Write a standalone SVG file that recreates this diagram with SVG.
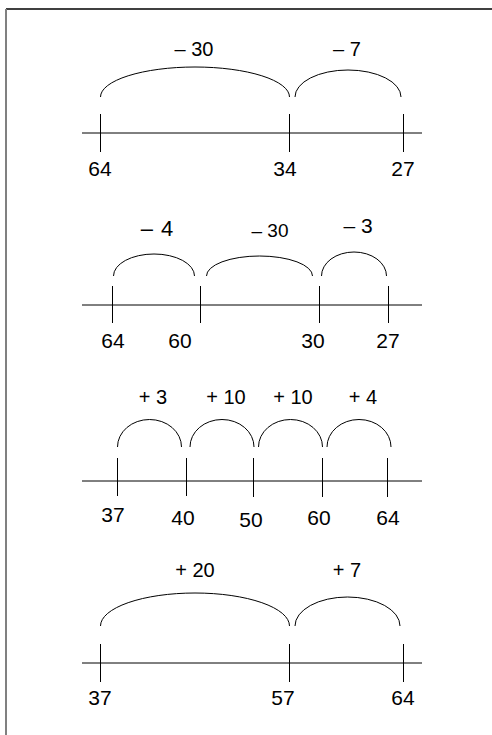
<svg xmlns="http://www.w3.org/2000/svg" width="492" height="735" viewBox="0 0 492 735">
<style>
.ax{stroke:#000;stroke-width:1;fill:none}
.arc{stroke:#000;stroke-width:1;fill:none}
.n{font-family:"Liberation Sans",Arial,sans-serif;font-size:21px;fill:#000;text-anchor:middle}
.op{font-family:"Liberation Sans",Arial,sans-serif;font-size:20px;fill:#000;text-anchor:middle}
</style>
<rect width="492" height="735" fill="#fff"/>
<g id="frame">
<line x1="6" y1="9" x2="492" y2="9" stroke="#000" stroke-width="1.5"/>
<line x1="6" y1="9" x2="6" y2="735" stroke="#808080" stroke-width="2"/>
</g>
<g id="line1">
<line class="ax" x1="82" y1="133" x2="422" y2="133"/>
<line class="ax" x1="100.5" y1="114" x2="100.5" y2="152"/>
<line class="ax" x1="289.5" y1="114" x2="289.5" y2="152"/>
<line class="ax" x1="403.5" y1="114" x2="403.5" y2="152"/>
<text class="n" x="100" y="176">64</text>
<text class="n" x="285" y="176">34</text>
<text class="n" x="403" y="176">27</text>
</g>
<g id="jumps1">
<path class="arc" d="M100.5,97 A94.5,30 0 0 1 289.5,97"/>
<path class="arc" d="M295,97 A53,27 0 0 1 401,97"/>
<text class="op" x="194" y="56">– 30</text>
<text class="op" x="347" y="56">– 7</text>
</g>
<g id="line2">
<line class="ax" x1="82" y1="305" x2="422" y2="305"/>
<line class="ax" x1="112.5" y1="286" x2="112.5" y2="323"/>
<line class="ax" x1="200.5" y1="286" x2="200.5" y2="323"/>
<line class="ax" x1="319.5" y1="286" x2="319.5" y2="323"/>
<line class="ax" x1="388.5" y1="286" x2="388.5" y2="323"/>
<text class="n" x="113" y="348">64</text>
<text class="n" x="180" y="348">60</text>
<text class="n" x="313" y="348">30</text>
<text class="n" x="388" y="348">27</text>
</g>
<g id="jumps2">
<path class="arc" d="M113.5,276 A40.5,22 0 0 1 194.5,276"/>
<path class="arc" d="M206.5,276 A53,20 0 0 1 312.5,276"/>
<path class="arc" d="M321.5,276 A32.5,24 0 0 1 386.5,276"/>
<text class="op" x="157" y="236" style="font-size:22px;word-spacing:2px">– 4</text>
<text class="op" x="270" y="237" style="font-size:19px">– 30</text>
<text class="op" x="358" y="233" style="font-size:21px">– 3</text>
</g>
<g id="line3">
<line class="ax" x1="82" y1="481" x2="422" y2="481"/>
<line class="ax" x1="117.5" y1="458" x2="117.5" y2="496"/>
<line class="ax" x1="186.5" y1="458" x2="186.5" y2="496"/>
<line class="ax" x1="253.5" y1="458" x2="253.5" y2="497"/>
<line class="ax" x1="322.5" y1="458" x2="322.5" y2="497"/>
<line class="ax" x1="387.5" y1="458" x2="387.5" y2="497"/>
<text class="n" x="113" y="522">37</text>
<text class="n" x="183" y="525">40</text>
<text class="n" x="251" y="527">50</text>
<text class="n" x="319" y="525">60</text>
<text class="n" x="388" y="525">64</text>
</g>
<g id="jumps3">
<path class="arc" d="M117.5,447 A32,27.5 0 0 1 181.5,447"/>
<path class="arc" d="M190,447 A32,27.5 0 0 1 254,447"/>
<path class="arc" d="M258.5,447 A32,27.5 0 0 1 322.5,447"/>
<path class="arc" d="M327,447 A32,27.5 0 0 1 391,447"/>
<text class="op" x="153" y="404">+ 3</text>
<text class="op" x="226" y="404">+ 10</text>
<text class="op" x="293" y="404">+ 10</text>
<text class="op" x="363" y="404">+ 4</text>
</g>
<g id="line4">
<line class="ax" x1="82" y1="663" x2="422" y2="663"/>
<line class="ax" x1="100.5" y1="644" x2="100.5" y2="682"/>
<line class="ax" x1="289.5" y1="644" x2="289.5" y2="682"/>
<line class="ax" x1="403.5" y1="644" x2="403.5" y2="682"/>
<text class="n" x="100" y="705">37</text>
<text class="n" x="283" y="705">57</text>
<text class="n" x="403" y="705">64</text>
</g>
<g id="jumps4">
<path class="arc" d="M100.5,626 A94.5,33 0 0 1 289.5,626"/>
<path class="arc" d="M295,626 A52.5,29 0 0 1 400,626"/>
<text class="op" x="195" y="577">+ 20</text>
<text class="op" x="347" y="577">+ 7</text>
</g>
</svg>
